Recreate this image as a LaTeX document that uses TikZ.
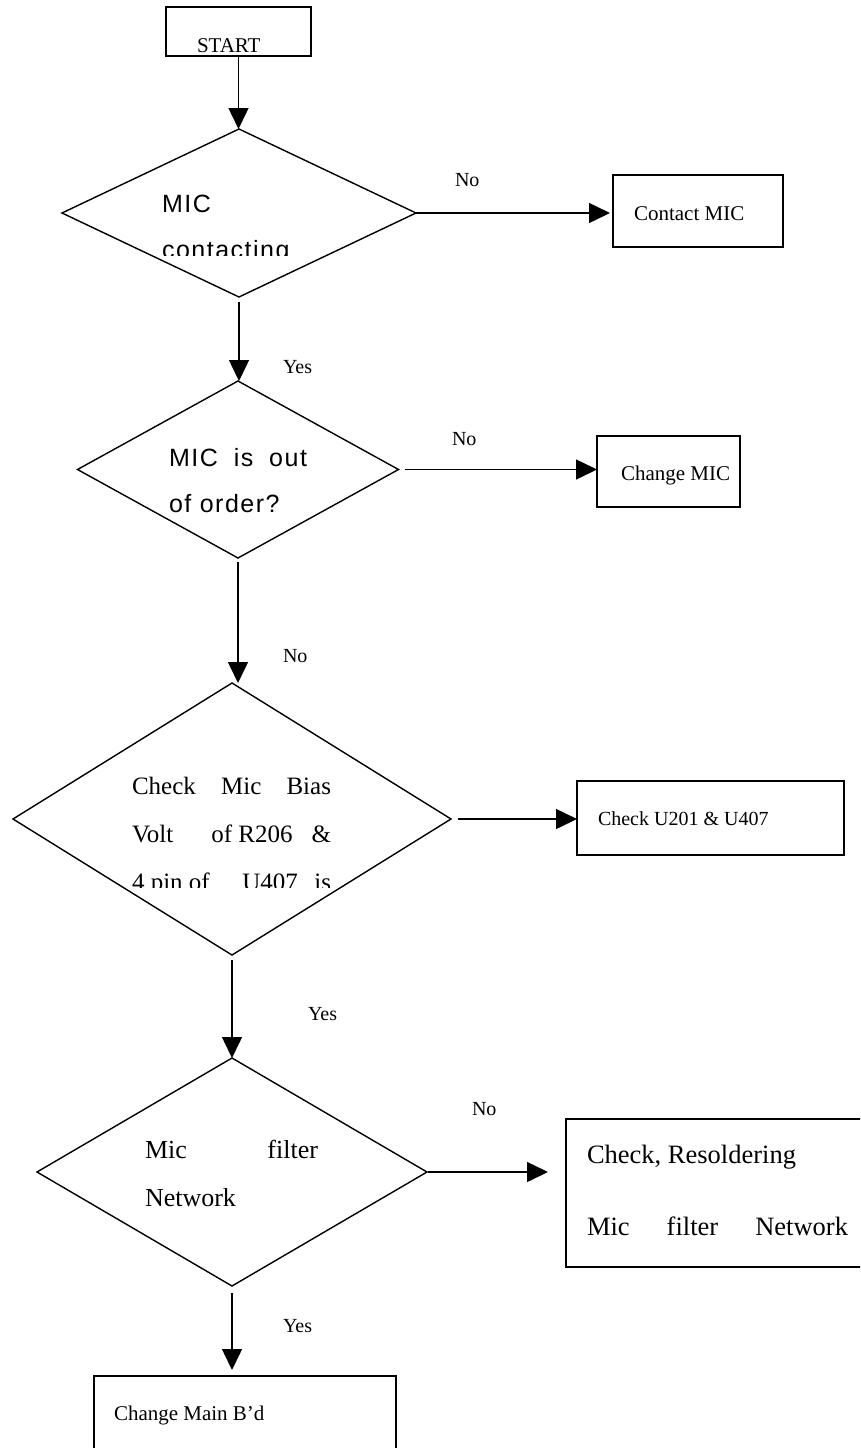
\documentclass[tikz,border=0pt]{standalone}
\usepackage{fontspec}
\setmainfont{Liberation Serif}
\newfontfamily\arialsp[LetterSpace=6]{Liberation Sans}
\usetikzlibrary{shapes.geometric,arrows.meta}
\newcommand{\myfs}[1]{\fontsize{#1}{#1}\selectfont}
\begin{document}
\begin{tikzpicture}[x=1pt,y=-1pt,
  dia/.style={diamond,draw,line width=1.4pt,inner sep=0pt,outer sep=0pt},
  box/.style={rectangle,draw,line width=1.4pt,inner sep=0pt,outer sep=0pt},
  txt/.style={anchor=base west,inner sep=0pt,outer sep=0pt},
  arr/.style={line width=1.5pt,-{Triangle[length=21pt,width=20pt]}}]
\useasboundingbox (0,0) rectangle (860,1448);
\clip (0,0) rectangle (860,1448);

% shapes
\node[box,minimum width=145pt,minimum height=49pt] (start) at (238.5,31.5) {};
\node[dia,minimum width=354pt,minimum height=168pt] (d1) at (239,213) {};
\node[box,minimum width=170pt,minimum height=72pt] (b1) at (698,211) {};
\node[dia,minimum width=321pt,minimum height=177pt] (d2) at (238,469.5) {};
\node[box,minimum width=143pt,minimum height=71pt] (b2) at (668.5,471.5) {};
\node[dia,minimum width=438pt,minimum height=272pt] (d3) at (232,819) {};
\node[box,minimum width=267pt,minimum height=74pt] (b3) at (710.5,818) {};
\node[dia,minimum width=390pt,minimum height=228pt] (d4) at (232,1172) {};
\node[box,minimum width=334pt,minimum height=148pt] (b4) at (733,1193) {};
\node[box,minimum width=302pt,minimum height=104pt] (b5) at (245,1428) {};

% connectors
\draw[arr] (start.south) -- (start.south |- d1.north);
\draw[arr,shorten >=3pt] (d1.east) -- (d1.east -| b1.west);
\draw[arr,shorten <=5pt] (d1.south) -- (d1.south |- d2.north);
\draw[arr,shorten <=6pt] (d2.east) -- (d2.east -| b2.west);
\draw[arr,shorten <=4pt] (d2.south) -- (d2.south |- d3.north);
\draw[arr,shorten <=7pt] (d3.east) -- (d3.east -| b3.west);
\draw[arr,shorten <=5pt] (d3.south) -- (d3.south |- d4.north);
\draw[arr,shorten <=1pt,shorten >=18pt] (d4.east) -- (d4.east -| b4.west);
\draw[arr,shorten <=7pt,shorten >=6pt] (d4.south) -- (d4.south |- b5.north);

% texts
\node[txt] (tstart) at (197,52) {\myfs{21}START};
\node[txt] (t1a) at (162,212) {\arialsp\myfs{25}MIC};
\begin{scope}
\clip (0,0) rectangle (860,255);
\node[txt] (t1b) at (162,258) {\arialsp\myfs{25}contacting};
\end{scope}
\node[txt] (n1) at (455,186) {\myfs{20}No};
\node[txt] (tb1) at (634,220) {\myfs{21}Contact MIC};
\node[txt] (y1) at (283,373) {\myfs{20}Yes};

\node[txt] (t2a) at (169,466) {\arialsp\myfs{25}\makebox[138pt][s]{MIC is out}};
\node[txt] (t2b) at (169,512) {\arialsp\myfs{25}of order?};
\node[txt] (n2) at (452,445) {\myfs{20}No};
\node[txt] (tb2) at (621,480) {\myfs{21}Change MIC};
\node[txt] (n3) at (283,662) {\myfs{20}No};

\node[txt] (t3a) at (132,794) {\myfs{25}\makebox[199pt][s]{Check\hfil Mic\hfil Bias}};
\node[txt] (t3b) at (132,842) {\myfs{25}\makebox[199pt][s]{Volt\hfil\hfil of R206\hfil \&}};
\begin{scope}
\clip (0,0) rectangle (860,887);
\node[txt] (t3c) at (132,890) {\myfs{25}\makebox[199pt][s]{4 pin of\hfil\hfil U407\hfil is}};
\end{scope}
\node[txt] (tb3) at (598,825) {\myfs{20}Check U201 \& U407};
\node[txt] (y2) at (308,1020) {\myfs{20}Yes};

\node[txt] (t4a) at (145,1158) {\myfs{26}\makebox[173pt][s]{Mic\hfil filter}};
\node[txt] (t4b) at (145,1206) {\myfs{26}Network};
\node[txt] (n4) at (472,1115) {\myfs{20}No};
\node[txt] (tb4a) at (587,1163) {\myfs{26.5}Check, Resoldering};
\node[txt] (tb4b) at (587,1235) {\myfs{26.5}\makebox[261pt][s]{Mic\hfil filter\hfil Network}};
\node[txt] (y3) at (283,1332) {\myfs{20}Yes};
\node[txt] (tb5) at (114,1420) {\myfs{21}Change Main B’d};
\end{tikzpicture}
\end{document}
